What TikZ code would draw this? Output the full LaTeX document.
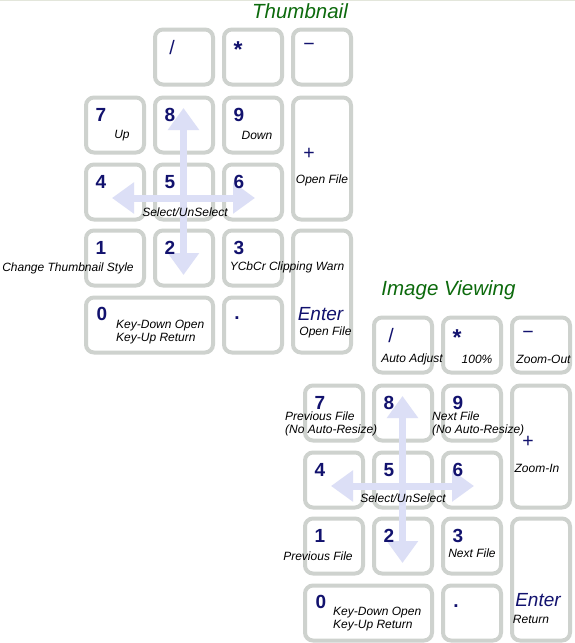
\documentclass[tikz,border=0pt]{standalone}
\usepackage{fontspec}
\setmainfont{Liberation Sans}
\usepackage{tikz}
\usetikzlibrary{arrows.meta}
\definecolor{rim}{HTML}{CED2CE}
\definecolor{ink}{HTML}{12126E}
\definecolor{padgreen}{HTML}{0C6A0C}
\definecolor{cross}{HTML}{DCDFF6}
\definecolor{edge}{HTML}{E3E6DB}

\begin{document}
\begin{tikzpicture}[x=1pt,y=-1pt,
  keycap/.style={draw=rim,fill=white,line width=4pt,rounded corners=8pt,minimum width=58pt,minimum height=55pt,inner sep=0pt},
  dig/.style={text=ink,font=\bfseries\fontsize{19}{20}\selectfont,inner sep=0pt,anchor=base},
  sym/.style={text=ink,font=\fontsize{19.5}{20}\selectfont,inner sep=0pt},
  enter/.style={text=ink,font=\itshape\fontsize{19}{20}\selectfont,inner sep=0pt},
  hint/.style={font=\itshape\fontsize{12}{12.5}\selectfont,inner sep=0pt,align=left},
  ttl/.style={text=padgreen,font=\itshape\fontsize{20.5}{22}\selectfont,inner sep=0pt},
  xarr/.style={cross,line width=7pt,{Triangle[length=22pt,width=30pt]}-{Triangle[length=22pt,width=30pt]}}]

% ---- page
\fill[white] (0,0) rectangle (575,643);
\useasboundingbox (0,0) rectangle (575,643);
\draw[edge,line width=1.2pt] (0,0.6) -- (575,0.6);

% ---- the two keypads (t = thumbnail, v = image viewing)
\foreach \p/\dx/\dy in {t/0/0,v/219/288}{
\begin{scope}[shift={(\dx,\dy)}]
  \node[keycap] (\p-div) at (184,57) {};
  \node[keycap] (\p-mul) at (253,57) {};
  \node[keycap] (\p-sub) at (322,57) {};
  \foreach \d/\x/\y in {7/115/125,8/184/125,9/253/125,4/115/192,5/184/192,6/253/192,1/115/258,2/184/258,3/253/258}
    \node[keycap] (\p\d) at (\x,\y) {};
  \node[keycap,minimum height=122pt] (\p-add) at (322,158.5) {};
  \node[keycap,minimum height=122pt] (\p-ent) at (322,291.5) {};
  \node[keycap,minimum width=127pt] (\p0) at (149.5,325) {};
  \node[keycap] (\p-dot) at (253,325) {};
  % cross of arrows
  \coordinate (\p N) at (183.5,108);
  \coordinate (\p S) at (183.5,275);
  \coordinate (\p W) at (112,198);
  \coordinate (\p E) at (255,198);
  \draw[xarr] (\p N) -- (\p S);
  \draw[xarr] (\p W) -- (\p E);
  % key faces
  \foreach \d/\x/\y in {7/115/125,8/184/125,9/253/125,4/115/192,5/184/192,6/253/192,1/115/258,2/184/258,3/253/258}
    \node[dig] at (\x-14,\y-4) {\d};
  \node[dig] at (102,320) {0};
  \node[dig] at (237,319) {.};
  \node[sym] at (172,48) {/};
  \node[sym,font=\bfseries\fontsize{23}{23}\selectfont] at (238,50) {*};
  \node[sym] at (309,47) {−};
  \node[sym] at (309,154) {+};
\end{scope}}

% ---- thumbnail labels
\node[ttl] at (300,11.5) {Thumbnail};
\node[hint] at (122,136) {Up};
\node[hint] at (257,135) {Down};
\node[hint] at (322,180) {Open File};
\node[hint] at (185,212) {Select/UnSelect};
\node[hint] at (68,268) {Change Thumbnail Style};
\node[hint] at (287,267) {YCbCr Clipping Warn};
\node[hint,anchor=west] at (116,332) {Key-Down Open\\Key-Up Return};
\node[enter] at (320.5,314) {Enter};
\node[hint] at (325.5,332) {Open File};

% ---- image viewing labels
\node[ttl] at (448.5,290) {Image Viewing};
\node[hint] at (412,359) {Auto Adjust};
\node[hint] at (477,359) {100\%};
\node[hint] at (543.5,359) {Zoom-Out};
\node[hint,anchor=west] at (285,424) {Previous File\\(No Auto-Resize)};
\node[hint,anchor=west] at (432,424) {Next File\\(No Auto-Resize)};
\node[hint] at (537,468) {Zoom-In};
\node[hint] at (403,498) {Select/UnSelect};
\node[hint] at (318,556) {Previous File};
\node[hint] at (472,553) {Next File};
\node[hint,anchor=west] at (333,619) {Key-Down Open\\Key-Up Return};
\node[enter] at (538,600) {Enter};
\node[hint] at (531,619) {Return};
\end{tikzpicture}
\end{document}
